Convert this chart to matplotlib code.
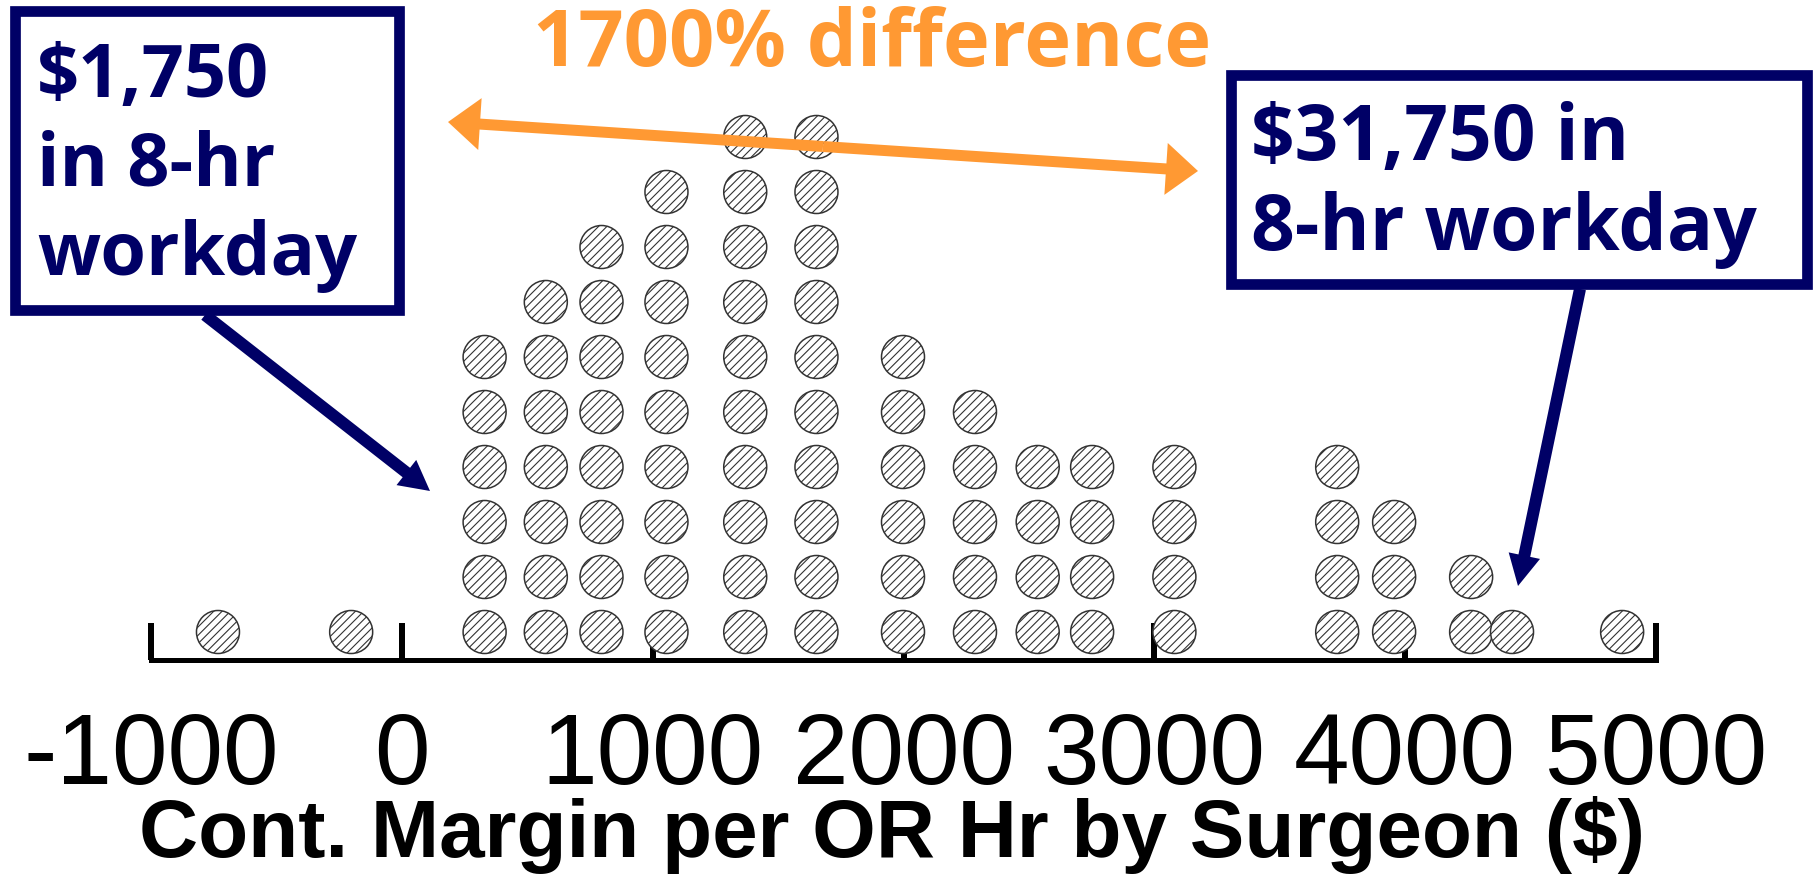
import matplotlib
matplotlib.use("Agg")
import matplotlib.pyplot as plt
from matplotlib import font_manager as fm
from matplotlib.patches import Rectangle, FancyArrow

# ---- data -------------------------------------------------------------
margin_values = [-733, -202, 330, 574, 796, 1055, 1369, 1653, 1998, 2285,
                 2535, 2752, 3080, 3729, 3956, 4263, 4426, 4865]
surgeon_counts = [1, 1, 6, 7, 8, 9, 10, 10, 6, 5, 4, 4, 4, 4, 3, 2, 1, 1]
tick_values = [-1000, 0, 1000, 2000, 3000, 4000, 5000]
tick_labels = ["-1000", "0", "1000", "2000", "3000", "4000", "5000"]
x_title = "Cont. Margin per OR Hr by Surgeon ($)"
low_note = ["$1,750", "in 8-hr", "workday"]
high_note = ["$31,750 in", "8-hr workday"]
spread_note = "1700% difference"

# ---- styling ----------------------------------------------------------
W, H, DPI = 1817, 879, 100
NAVY = "#000066"
ORANGE = "#FF9933"
PX = 72.0 / DPI  # points per pixel


def _weight_num(w):
    if isinstance(w, (int, float)):
        return w
    return fm.weight_dict.get(str(w).lower(), 400)


def pick_bold_family(candidates):
    """First family that ships a real bold face."""
    for name in candidates:
        for f in fm.fontManager.ttflist:
            if f.name == name and f.style == "normal" and _weight_num(f.weight) >= 700:
                return name
    return "DejaVu Sans"


NOTE_FONT = pick_bold_family(["Noto Sans", "Open Sans", "Lato", "Roboto",
                              "Inter", "Liberation Sans", "DejaVu Sans"])

plt.rcParams["hatch.linewidth"] = 0.8
plt.rcParams["hatch.color"] = "#444444"

fig = plt.figure(figsize=(W / DPI, H / DPI), dpi=DPI, facecolor="white")
renderer = fig.canvas.get_renderer()


def fit_width(txt, target_px):
    """Scale a text's font size so its rendered width is target_px."""
    for _ in range(3):
        w = txt.get_window_extent(renderer=renderer).width
        txt.set_fontsize(txt.get_fontsize() * target_px / w)


# main dot-plot axes: bottom spine is the number line
axis_y = 661          # pixel row of the number line (from top)
x_left, x_right = 151, 1656
row_px = 55           # vertical distance between stacked dots
first_row = 28        # first dot centre above the number line

ax = fig.add_axes([x_left / W, (H - axis_y) / H, (x_right - x_left) / W, axis_y / H])
ax.set_xlim(tick_values[0], tick_values[-1])
y0 = -first_row / row_px
ax.set_ylim(y0, y0 + axis_y / row_px)
ax.patch.set_visible(False)
for side in ("left", "right", "top"):
    ax.spines[side].set_visible(False)
ax.spines["bottom"].set_linewidth(5 * PX)
ax.spines["bottom"].set_color("black")
ax.set_yticks([])
ax.set_xticks(tick_values, tick_labels)
ax.tick_params(axis="x", direction="in", length=37 * PX, width=6 * PX,
               color="black", pad=36, labelsize=72)
for lab in ax.get_xticklabels():
    lab.set_family("Liberation Sans")

xs, ys = [], []
for v, c in zip(margin_values, surgeon_counts):
    for r in range(c):
        xs.append(v)
        ys.append(r)
ax.scatter(xs, ys, s=(43 * PX) ** 2, marker="o", facecolor="white",
           edgecolor="#333333", linewidth=1.1, hatch="////", zorder=3, clip_on=False)

xt = fig.text(892 / W, 1 - 857 / H, x_title, ha="center", va="baseline",
              fontsize=59, fontweight="bold", family="Liberation Sans", parse_math=False)
fit_width(xt, 1506)

# ---- annotation layer in pixel coordinates ----------------------------
ov = fig.add_axes([0, 0, 1, 1])
ov.set_xlim(0, W)
ov.set_ylim(H, 0)
ov.axis("off")

# callout boxes
ov.add_patch(Rectangle((15.3, 12.3), 383.4, 298.4, fill=False,
                       edgecolor=NAVY, linewidth=10.7 * PX))
ov.add_patch(Rectangle((1231, 76), 576, 208.5, fill=False,
                       edgecolor=NAVY, linewidth=10.7 * PX))

low_texts = [ov.text(37, base, line, ha="left", va="baseline", fontsize=53,
                     fontweight="bold", family=NOTE_FONT, color=NAVY, parse_math=False)
             for line, base in zip(low_note, [97, 185, 275])]
fit_width(low_texts[2], 321)
for t in low_texts[:2]:
    t.set_fontsize(low_texts[2].get_fontsize())

high_texts = [ov.text(1251, base, line, ha="left", va="baseline", fontsize=55.5,
                      fontweight="bold", family=NOTE_FONT, color=NAVY, parse_math=False)
              for line, base in zip(high_note, [160, 250])]
fit_width(high_texts[1], 505)
high_texts[0].set_fontsize(high_texts[1].get_fontsize())

st = ov.text(872, 66, spread_note, ha="center", va="baseline", fontsize=57.5,
             fontweight="bold", family=NOTE_FONT, color=ORANGE)
fit_width(st, 678)

# pointer arrows from the callouts
ov.add_patch(FancyArrow(205, 316, 430 - 205, 492 - 316, width=12, head_width=32,
                        head_length=30, length_includes_head=True,
                        color=NAVY, linewidth=0))
ov.add_patch(FancyArrow(1580, 290, 1518 - 1580, 587 - 290, width=12, head_width=32,
                        head_length=31, length_includes_head=True,
                        color=NAVY, linewidth=0))

# double-headed spread arrow
mx, my = (448 + 1198) / 2, (123 + 172) / 2
for tx, ty in [(448, 123), (1198, 172)]:
    ov.add_patch(FancyArrow(mx, my, tx - mx, ty - my, width=11, head_width=52,
                            head_length=32, length_includes_head=True,
                            color=ORANGE, linewidth=0, zorder=5))

fig.savefig("out.png", dpi=DPI, facecolor="white")
